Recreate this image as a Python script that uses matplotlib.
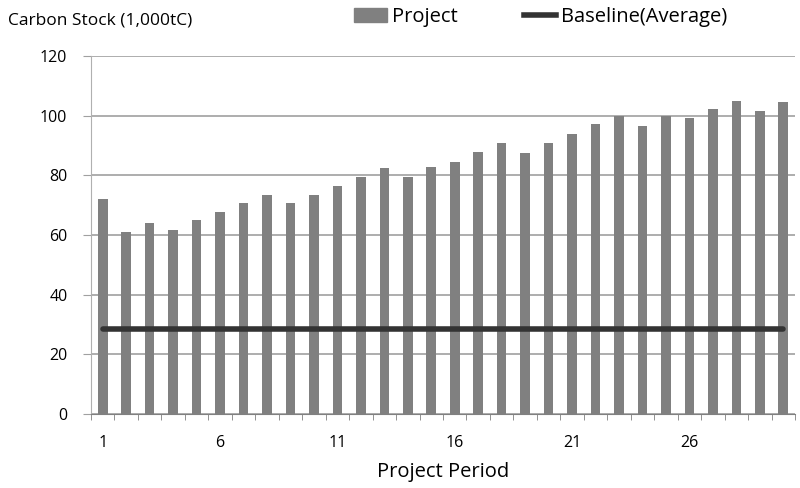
import matplotlib
matplotlib.use("Agg")
import matplotlib.pyplot as plt
from matplotlib.patches import Patch
from matplotlib.lines import Line2D
import numpy as np

periods = list(range(1, 31))
project = [72.1, 60.9, 64.0, 61.8, 64.9, 67.9, 70.6, 73.6, 70.6, 73.6,
           76.4, 79.4, 82.4, 79.4, 82.8, 84.5, 87.8, 90.8, 87.5, 90.8,
           93.9, 97.2, 99.9, 96.6, 99.9, 99.2, 102.4, 105.1, 101.5, 104.5]
baseline = [28.5] * 30
xtick_labels = ["1", "6", "11", "16", "21", "26"]
yticks = [0, 20, 40, 60, 80, 100, 120]

plt.rcParams['font.family'] = ['Open Sans', 'DejaVu Sans']

fig = plt.figure(figsize=(8, 4.88), dpi=100)
ax = fig.add_axes([0.11375, 0.1516, 0.88, 0.7334])

ax.bar(periods, project, width=0.41, color='#808080', zorder=2)
ax.plot(periods, baseline, color='#333333', lw=4, zorder=3, solid_capstyle='round')

ax.set_xlim(0.5, 30.5)
ax.set_ylim(0, 120)
ax.set_yticks(yticks)
ax.yaxis.grid(True, color='#a0a0a0', lw=1.2, zorder=0)
ax.set_axisbelow(True)

ax.set_xticks([1, 6, 11, 16, 21, 26])
ax.set_xticklabels(xtick_labels, fontsize=11.5)
ax.set_xticks(np.arange(0.5, 31, 1), minor=True)
ax.tick_params(axis='x', which='major', length=0, pad=15)
ax.tick_params(axis='x', which='minor', length=4.5, color='#808080', direction='out')
ax.tick_params(axis='y', length=6, color='#a0a0a0', labelsize=11.5, pad=11)

for s in ['top', 'right']:
    ax.spines[s].set_visible(False)
ax.spines['left'].set_color('#b0b0b0')
ax.spines['bottom'].set_color('#808080')

ax.set_xlabel('Project Period', fontsize=14.5, labelpad=8)
fig.text(0.01, 0.959, 'Carbon Stock (1,000tC)', fontsize=12.5, va='center', ha='left')

handles = [Patch(color='#808080', label='Project'),
           Line2D([0], [0], color='#333333', lw=4, label='Baseline(Average)')]
fig.legend(handles=handles, loc='center', bbox_to_anchor=(0.676, 0.965), ncol=2,
           frameon=False, fontsize=14.5, handlelength=1.6, handletextpad=0.25,
           columnspacing=3.3)

fig.savefig('out.png', dpi=100)
